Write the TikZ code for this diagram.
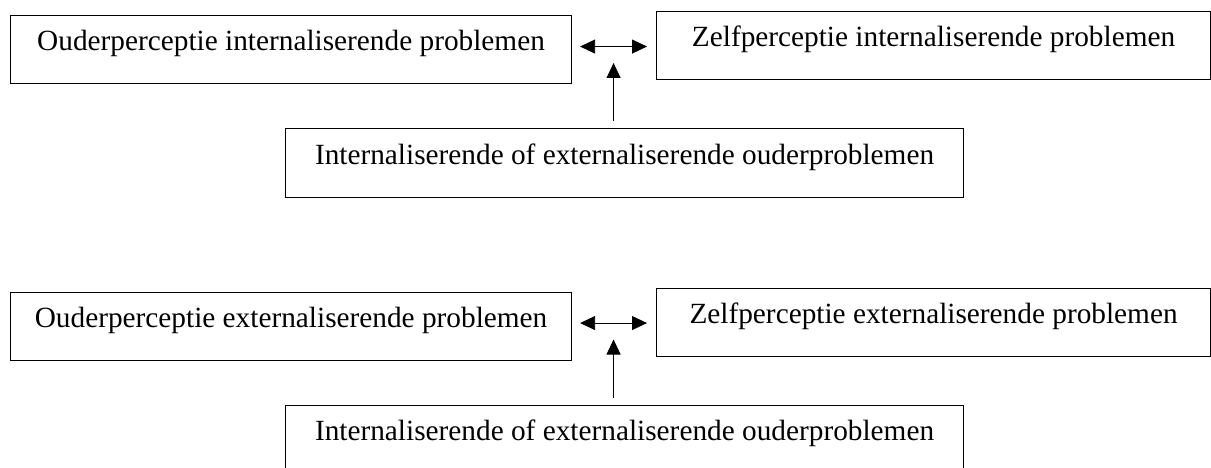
\documentclass[tikz,border=0pt]{standalone}
\usepackage{fontspec}
\setmainfont{Liberation Serif}
\usepackage{tikz}
\usetikzlibrary{arrows.meta}

\begin{document}
\begin{tikzpicture}[x=1pt,y=-1pt,
  kader/.style={draw,line width=1.1pt,anchor=north west,inner sep=0pt,
    minimum height=68pt,text height=0.7em,text depth=0.45em,
    font=\fontsize{29.3}{35}\selectfont},
  pijl/.style={line width=0.8pt,-{Triangle[length=15pt,width=14pt]}},
  dubbelpijl/.style={line width=0.8pt,{Triangle[length=15pt,width=14pt]}-{Triangle[length=15pt,width=14pt]}}]
\clip (0,0) rectangle (1211,468);
\foreach \rij/\dy/\soort in {1/0/internaliserende,2/276.5/externaliserende}{
  \node[kader,minimum width=561pt] (ouder\rij) at (10,{15+\dy}) {Ouderperceptie \soort\ problemen};
  \node[kader,minimum width=554pt] (zelf\rij) at (656,{11+\dy}) {Zelfperceptie \soort\ problemen};
  \node[kader,minimum width=678pt,minimum height=69pt] (probl\rij) at (285,{128+\dy}) {Internaliserende of externaliserende ouderproblemen};
  \draw[dubbelpijl] ([xshift=8pt,yshift=-1pt]ouder\rij.east |- zelf\rij.west) -- ([xshift=-9pt,yshift=-1pt]zelf\rij.west);
  \draw[pijl] ([xshift=-11pt,yshift=7pt]probl\rij.north) -- ++(0,-58);
}
\end{tikzpicture}
\end{document}
